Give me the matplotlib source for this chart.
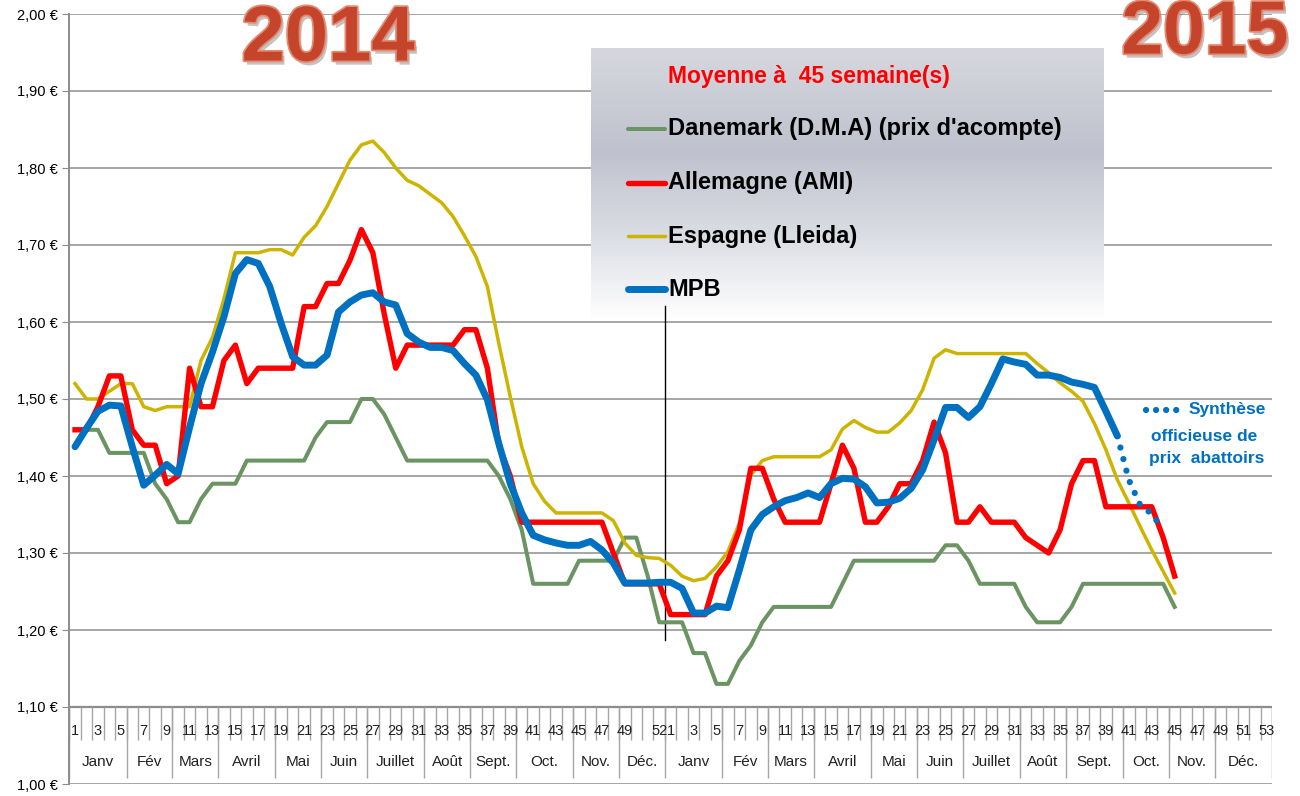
import numpy as np
import matplotlib
matplotlib.use("Agg")
import matplotlib.pyplot as plt
from matplotlib import patheffects as pe
from matplotlib.lines import Line2D
from matplotlib.colors import LinearSegmentedColormap

# ---------------- data ----------------
week_labels_2014 = ["1", "", "3", "", "5", "", "7", "", "9", "", "11", "", "13", "", "15", "", "17", "",
                    "19", "", "21", "", "23", "", "25", "", "27", "", "29", "", "31", "", "33", "", "35", "",
                    "37", "", "39", "", "41", "", "43", "", "45", "", "47", "", "49", "", "", "52"]
week_labels_2015 = ["1", "", "3", "", "5", "", "7", "", "9", "", "11", "", "13", "", "15", "", "17", "",
                    "19", "", "21", "", "23", "", "25", "", "27", "", "29", "", "31", "", "33", "", "35", "",
                    "37", "", "39", "", "41", "", "43", "", "45", "", "47", "", "49", "", "51", "", "53"]
months_2014 = ["Janv", "Fév", "Mars", "Avril", "Mai", "Juin", "Juillet", "Août", "Sept.", "Oct.", "Nov.", "Déc."]
month_weeks_2014 = [5, 4, 4, 5, 4, 4, 5, 4, 4, 5, 4, 4]
months_2015 = ["Janv", "Fév", "Mars", "Avril", "Mai", "Juin", "Juillet", "Août", "Sept.", "Oct.", "Nov.", "Déc."]
month_weeks_2015 = [5, 4, 4, 5, 4, 4, 5, 4, 5, 4, 4, 5]

danemark_2014 = [1.46, 1.46, 1.46, 1.43, 1.43, 1.43, 1.43, 1.39, 1.37, 1.34, 1.34, 1.37, 1.39, 1.39, 1.39, 1.42,
                 1.42, 1.42, 1.42, 1.42, 1.42, 1.45, 1.47, 1.47, 1.47, 1.50, 1.50, 1.48, 1.45, 1.42, 1.42, 1.42,
                 1.42, 1.42, 1.42, 1.42, 1.42, 1.40, 1.37, 1.33, 1.26, 1.26, 1.26, 1.26, 1.29, 1.29, 1.29, 1.29,
                 1.32, 1.32, 1.27, 1.21]
danemark_2015 = [1.21, 1.21, 1.17, 1.17, 1.13, 1.13, 1.16, 1.18, 1.21, 1.23, 1.23, 1.23, 1.23, 1.23, 1.23, 1.26,
                 1.29, 1.29, 1.29, 1.29, 1.29, 1.29, 1.29, 1.29, 1.31, 1.31, 1.29, 1.26, 1.26, 1.26, 1.26, 1.23,
                 1.21, 1.21, 1.21, 1.23, 1.26, 1.26, 1.26, 1.26, 1.26, 1.26, 1.26, 1.26, 1.23]

allemagne_2014 = [1.46, 1.46, 1.49, 1.53, 1.53, 1.46, 1.44, 1.44, 1.39, 1.40, 1.54, 1.49, 1.49, 1.55, 1.57, 1.52,
                  1.54, 1.54, 1.54, 1.54, 1.62, 1.62, 1.65, 1.65, 1.68, 1.72, 1.69, 1.61, 1.54, 1.57, 1.57, 1.57,
                  1.57, 1.57, 1.59, 1.59, 1.54, 1.44, 1.40, 1.34, 1.34, 1.34, 1.34, 1.34, 1.34, 1.34, 1.34, 1.30,
                  1.26, 1.26, 1.26, 1.26]
allemagne_2015 = [1.22, 1.22, 1.22, 1.22, 1.27, 1.29, 1.33, 1.41, 1.41, 1.37, 1.34, 1.34, 1.34, 1.34, 1.39, 1.44,
                  1.41, 1.34, 1.34, 1.36, 1.39, 1.39, 1.42, 1.47, 1.43, 1.34, 1.34, 1.36, 1.34, 1.34, 1.34, 1.32,
                  1.31, 1.30, 1.33, 1.39, 1.42, 1.42, 1.36, 1.36, 1.36, 1.36, 1.36, 1.32, 1.27]

espagne_2014 = [1.52, 1.50, 1.50, 1.51, 1.52, 1.52, 1.49, 1.485, 1.49, 1.49, 1.49, 1.55, 1.58, 1.63, 1.69, 1.69,
                1.69, 1.694, 1.694, 1.687, 1.71, 1.725, 1.75, 1.78, 1.81, 1.83, 1.835, 1.82, 1.80, 1.784, 1.777,
                1.766, 1.755, 1.737, 1.712, 1.685, 1.646, 1.572, 1.503, 1.438, 1.39, 1.367, 1.352, 1.352, 1.352,
                1.352, 1.352, 1.342, 1.313, 1.297, 1.294, 1.293]
espagne_2015 = [1.284, 1.27, 1.264, 1.267, 1.282, 1.302, 1.339, 1.401, 1.42, 1.425, 1.425, 1.425, 1.425, 1.425,
                1.434, 1.461, 1.472, 1.463, 1.457, 1.457, 1.469, 1.485, 1.512, 1.553, 1.564, 1.559, 1.559, 1.559,
                1.559, 1.559, 1.559, 1.559, 1.546, 1.534, 1.521, 1.51, 1.497, 1.468, 1.434, 1.395, 1.365, 1.334,
                1.304, 1.276, 1.248]

mpb_2014 = [1.438, 1.462, 1.484, 1.492, 1.491, 1.438, 1.388, 1.401, 1.415, 1.403, 1.463, 1.52, 1.561, 1.607,
            1.663, 1.681, 1.676, 1.646, 1.598, 1.555, 1.544, 1.544, 1.557, 1.613, 1.626, 1.635, 1.638, 1.626,
            1.622, 1.585, 1.574, 1.567, 1.567, 1.563, 1.546, 1.531, 1.499, 1.442, 1.39, 1.352, 1.323, 1.317,
            1.313, 1.31, 1.31, 1.315, 1.304, 1.287, 1.261, 1.261, 1.261, 1.262]
mpb_2015 = [1.262, 1.254, 1.222, 1.222, 1.231, 1.229, 1.278, 1.33, 1.35, 1.36, 1.368, 1.372, 1.378, 1.372, 1.39,
            1.397, 1.396, 1.386, 1.365, 1.366, 1.371, 1.384, 1.408, 1.447, 1.489, 1.489, 1.476, 1.49, 1.52,
            1.552, 1.548, 1.545, 1.531, 1.531, 1.528, 1.522, 1.519, 1.515, 1.484, 1.452]
synthese_weeks_2015 = [40, 41, 42, 43, 44]
synthese_2015 = [1.452, 1.395, 1.362, 1.351, 1.33]

y_ticks = [1.00, 1.10, 1.20, 1.30, 1.40, 1.50, 1.60, 1.70, 1.80, 1.90, 2.00]

legend_title = "Moyenne à  45 semaine(s)"
series_names = ["Danemark (D.M.A) (prix d'acompte)", "Allemagne (AMI)", "Espagne (Lleida)", "MPB"]

# ---------------- style ----------------
W_PX, H_PX = 1300, 796
C_GREEN, C_RED, C_YELLOW, C_BLUE = "#6A9462", "#FF0000", "#CCB400", "#0070C0"
GRID = "#A6A6A6"
FONT = ["Liberation Sans Narrow", "Liberation Sans", "DejaVu Sans"]
BOLD_FONT = ["Liberation Sans", "DejaVu Sans"]
plt.rcParams["font.family"] = FONT

def fx(px):
    return px / W_PX

def fy(py):
    return 1 - py / H_PX

fig = plt.figure(figsize=(13, 7.96), dpi=100)
left_px, right_px, top_px, bottom_px = 69.3, 1272, 14, 784
ax = fig.add_axes([fx(left_px), fy(bottom_px), fx(right_px - left_px), (bottom_px - top_px) / H_PX])

n14, n15 = len(week_labels_2014), len(week_labels_2015)
ncat = n14 + n15
x14 = np.arange(1, n14 + 1)
x15 = np.arange(n14 + 1, n14 + n15 + 1)

def val_of_px(py):
    return 2.0 - (py - top_px) / (bottom_px - top_px)

def px_to_x(px):
    return (px - left_px) / ((right_px - left_px) / ncat) + 0.5

# grid and axes
ax.set_xlim(0.5, ncat + 0.5)
ax.set_ylim(1.0, 2.0)
ax.set_yticks(y_ticks)
ax.set_yticklabels([("%.2f" % v).replace(".", ",") + " €" for v in y_ticks], fontsize=10.5, family=BOLD_FONT)
ax.set_xticks([])
ax.yaxis.grid(True, color=GRID, lw=1.4, zorder=0)
ax.set_axisbelow(True)
for s in ["top", "right", "bottom"]:
    ax.spines[s].set_visible(False)
ax.spines["left"].set_color("#8C8C8C")
ax.spines["left"].set_linewidth(1.4)
ax.tick_params(axis="y", direction="out", length=5, color="#8C8C8C", pad=3)
ax.axhline(1.10, color="#8C8C8C", lw=1.6, zorder=1)

# category axis (two levels)
bounds = np.arange(0.5, ncat + 1.0, 1.0)
ax.vlines(bounds, val_of_px(740), 1.10, color=GRID, lw=1.0, zorder=1)
grp_bounds = [0.5]
for n in month_weeks_2014 + month_weeks_2015:
    grp_bounds.append(grp_bounds[-1] + n)
ax.vlines(grp_bounds, val_of_px(778), 1.10, color=GRID, lw=1.0, zorder=1)
for i, lab in enumerate(week_labels_2014 + week_labels_2015):
    if lab:
        ax.text(i + 1, val_of_px(731), lab, ha="center", va="center", fontsize=10.5, color="#222222")
for i, lab in enumerate(months_2014 + months_2015):
    ax.text((grp_bounds[i] + grp_bounds[i + 1]) / 2, val_of_px(762), lab, ha="center", va="center",
            fontsize=11, color="#222222")

# legend box (gradient) inside the plot
grad = LinearSegmentedColormap.from_list("g", [(0, "#D6D7DE"), (0.38, "#BFC2CE"), (0.7, "#DCDEE5"), (1, "#FFFFFF")])
ax.imshow(np.linspace(0, 1, 200).reshape(-1, 1), cmap=grad, aspect="auto",
          extent=[px_to_x(591), px_to_x(1103), val_of_px(320), val_of_px(48)], zorder=1.5)

# separator between years
ax.plot([n14 + 0.5, n14 + 0.5], [val_of_px(306), val_of_px(640)], color="black", lw=1.0, zorder=2)

# series
ax.plot(np.concatenate([x14, x15[:len(danemark_2015)]]), danemark_2014 + danemark_2015,
        color=C_GREEN, lw=2.9, zorder=3, solid_joinstyle="round")
ax.plot(np.concatenate([x14, x15[:len(espagne_2015)]]), espagne_2014 + espagne_2015,
        color=C_YELLOW, lw=2.5, zorder=4, solid_joinstyle="round")
ax.plot(np.concatenate([x14, x15[:len(allemagne_2015)]]), allemagne_2014 + allemagne_2015,
        color=C_RED, lw=3.9, zorder=5, solid_joinstyle="round")
ax.plot(np.concatenate([x14, x15[:len(mpb_2015)]]), mpb_2014 + mpb_2015,
        color=C_BLUE, lw=5.0, zorder=6, solid_joinstyle="round", solid_capstyle="round")
ax.plot(n14 + np.array(synthese_weeks_2015), synthese_2015, color=C_BLUE, lw=4.5,
        linestyle=(0, (0.01, 1.9)), dash_capstyle="round", zorder=6)

# legend content
fig.text(fx(668), fy(76), legend_title, color="red", fontsize=16.5, fontweight="bold",
         va="center", ha="left", family=BOLD_FONT)
leg_y = [129, 183, 236, 289]
leg_c = [C_GREEN, C_RED, C_YELLOW, C_BLUE]
leg_w = [2.9, 3.9, 2.5, 5.0]
for yy, c, w, name in zip(leg_y, leg_c, leg_w, series_names):
    fig.add_artist(Line2D([fx(628), fx(665)], [fy(yy), fy(yy)], color=c, lw=w,
                          transform=fig.transFigure, solid_capstyle="round"))
    fig.text(fx(668), fy(yy), name, color="black", fontsize=17, fontweight="bold",
             va="center", ha="left", family=BOLD_FONT)

# synthèse annotation
fig.add_artist(Line2D([fx(1146), fx(1178)], [fy(410), fy(410)], color=C_BLUE, lw=4.5,
                      linestyle=(0, (0.01, 1.6)), dash_capstyle="round", transform=fig.transFigure))
fig.text(fx(1227), fy(410), "Synthèse", color=C_BLUE, fontsize=12.5, fontweight="bold",
         ha="center", va="center", family=BOLD_FONT)
fig.text(fx(1204), fy(436), "officieuse de", color=C_BLUE, fontsize=12.5, fontweight="bold",
         ha="center", va="center", family=BOLD_FONT)
fig.text(fx(1207), fy(459), "prix  abattoirs", color=C_BLUE, fontsize=12.5, fontweight="bold",
         ha="center", va="center", family=BOLD_FONT)

# big year labels
effects = [pe.withSimplePatchShadow(offset=(2, -3), shadow_rgbFace="#7A7A7A", alpha=0.45),
           pe.withStroke(linewidth=2.5, foreground="#E58A70")]
fig.text(fx(328), fy(40), "2014", color="#C4452C", fontsize=56, fontweight="bold", ha="center",
         va="center", path_effects=effects, family=BOLD_FONT)
fig.text(fx(1205), fy(34), "2015", color="#C4452C", fontsize=54, fontweight="bold", ha="center",
         va="center", path_effects=effects, family=BOLD_FONT)

fig.savefig("out.png", dpi=100)
